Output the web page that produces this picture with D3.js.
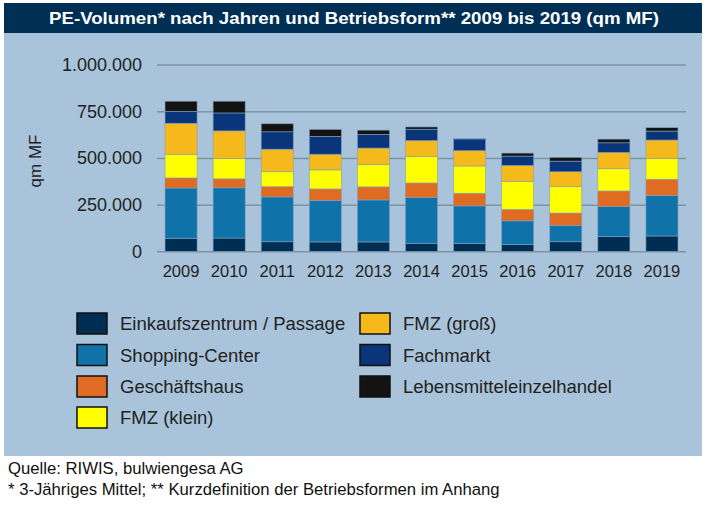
<!DOCTYPE html>
<html><head><meta charset="utf-8">
<script src="https://cdn.jsdelivr.net/npm/d3@7"></script>
<style>body{margin:0;background:#fff;}svg{display:block;font-family:"Liberation Sans",Arial,sans-serif;}</style>
</head><body>
<svg id="c" width="707" height="511"></svg>
<script>
const years = ["2009","2010","2011","2012","2013","2014","2015","2016","2017","2018","2019"];
const seriesNames = ["Einkaufszentrum / Passage","Shopping-Center","Geschäftshaus","FMZ (klein)","FMZ (groß)","Fachmarkt","Lebensmitteleinzelhandel"];
const colors = ["#002d52","#0f72a9","#e06b23","#ffff00","#f5b91c","#0a357a","#131313"];
const ekz       = [70000, 71000, 51000, 50000, 50000, 43000, 41000, 37000, 51000, 78000, 82000];
const shopping  = [269000,269000,240000,223000,225000,244000,202000,126000, 88000,161000,216000];
const geschaeft = [54000, 48000, 55000, 61000, 70000, 79000, 68000, 61000, 66000, 84000, 88000];
const fmzKlein  = [127000,109000, 80000,102000,119000,141000,146000,150000,141000,119000,110000];
const fmzGross  = [166000,148000,121000, 84000, 89000, 86000, 82000, 86000, 80000, 88000,100000];
const fachmarkt = [64000, 96000, 93000, 96000, 73000, 61000, 63000, 50000, 57000, 51000, 48000];
const leh       = [54000, 63000, 43000, 37000, 23000, 12000,  3000, 16000, 20000, 20000, 18000];
const yTicks = [0, 250000, 500000, 750000, 1000000];

const seriesData = [ekz, shopping, geschaeft, fmzKlein, fmzGross, fachmarkt, leh];
const rows = years.map((y,i)=>{const o={year:y}; seriesNames.forEach((s,k)=>o[s]=seriesData[k][i]); return o;});
const stacked = d3.stack().keys(seriesNames)(rows);

const svg = d3.select("#c");
// panel
svg.append("rect").attr("x",4).attr("y",3).attr("width",698).attr("height",453).attr("fill","#a9c4da");
svg.append("rect").attr("x",4).attr("y",3).attr("width",698).attr("height",30).attr("fill","#002f55");
svg.append("text").attr("x",49).attr("y",23.5).attr("fill","#fff")
  .attr("font-weight","bold").attr("font-size",17).attr("textLength",610).attr("lengthAdjust","spacingAndGlyphs")
  .text("PE-Volumen* nach Jahren und Betriebsform** 2009 bis 2019 (qm MF)");

const x = d3.scaleBand().domain(years).range([157,686]).paddingInner(1/3).paddingOuter(1/6);
const y = d3.scaleLinear().domain([0,1000000]).range([251.3,64.6]);
const loc = d3.formatLocale({decimal:",",thousands:".",grouping:[3],currency:["","€"]});
const fmt = loc.format(",");

// grid
const yAxis = d3.axisLeft(y).tickValues(yTicks).tickFormat(fmt).tickSize(-(686-157)).tickPadding(15);
const ga = svg.append("g").attr("transform","translate(157,0)").call(yAxis);
ga.select(".domain").remove();
ga.selectAll(".tick line").attr("stroke","#7f92a3").attr("stroke-width",1.5);
ga.selectAll(".tick text").attr("font-size",18).attr("fill","#222").attr("font-family","Liberation Sans, Arial, sans-serif");

svg.append("text").attr("transform","translate(41,161) rotate(-90)").attr("text-anchor","middle")
  .attr("font-size",17).attr("fill","#222").text("qm MF");

// bars
svg.append("g").selectAll("g").data(stacked).join("g").attr("fill",(d,i)=>colors[i])
  .selectAll("rect").data(d=>d).join("rect")
  .attr("x",d=>x(d.data.year)).attr("width",x.bandwidth())
  .attr("y",d=>y(d[1])).attr("height",d=>Math.max(0,y(d[0])-y(d[1])))
  .attr("stroke","#7fa0bd").attr("stroke-width",0.6);

const xa = svg.append("g").attr("transform","translate(0,251.3)").call(d3.axisBottom(x).tickSize(0).tickPadding(14));
xa.select(".domain").remove();
xa.selectAll(".tick text").attr("font-size",16.5).attr("fill","#222").attr("font-family","Liberation Sans, Arial, sans-serif");

// legend
const leg = svg.append("g");
const pos = [[77,313],[77,344.5],[77,376],[77,407],[360,313],[360,344.5],[360,376]];
seriesNames.forEach((s,i)=>{
  const [lx,ly]=pos[i];
  leg.append("rect").attr("x",lx).attr("y",ly).attr("width",30).attr("height",21).attr("fill",colors[i]).attr("stroke","#111").attr("stroke-width",1.5);
  leg.append("text").attr("x",lx+43).attr("y",ly+17).attr("font-size",18.5).attr("fill","#222").text(s);
});

// footer
svg.append("text").attr("x",8).attr("y",474).attr("font-size",16.7).attr("fill","#111").text("Quelle: RIWIS, bulwiengesa AG");
svg.append("text").attr("x",8).attr("y",495).attr("font-size",16.7).attr("fill","#111").text("* 3-Jähriges Mittel; ** Kurzdefinition der Betriebsformen im Anhang");
</script>
</body></html>
